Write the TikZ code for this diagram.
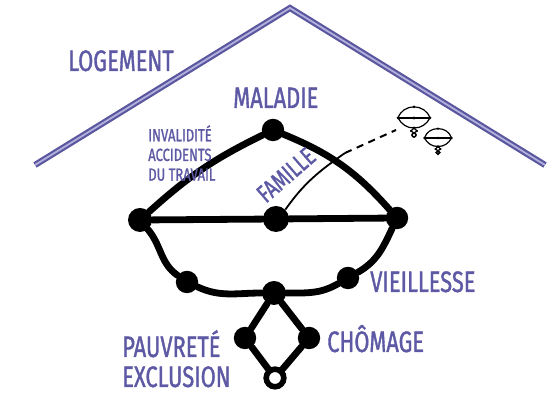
\documentclass[tikz,border=0pt]{standalone}
\usepackage{fontspec}
\setmainfont{Fira Sans}[FakeStretch=0.74, FakeBold=1.2]
\usetikzlibrary{positioning}
\definecolor{ink}{HTML}{5D59A4}
\definecolor{roofline}{HTML}{5A57A0}
\definecolor{roofcore}{HTML}{B3B1DC}

\tikzset{
  famicon/.pic={
    \draw[line width=0.3mm] (-16,0) to[out=70,in=180] (0,11) to[out=0,in=110] (16,0);
    \draw[line width=0.3mm] (-16,0) -- (16,0);
    \draw[line width=0.3mm] (-16,0) to[out=-60,in=180] (0,-10) to[out=0,in=-120] (16,0);
    \draw[line width=0.3mm] (0,-10) -- (-3,-13) -- (0,-15) -- (3,-13) -- cycle;
    \draw[line width=0.4mm] (0,-17) circle (2);
    \fill (0,11) circle (1.5) (-16,0) circle (1.5) (16,0) circle (1.5)
          (0,0) circle (1.7) (0,-10) circle (1.5) (-3,-13) circle (1.2) (3,-13) circle (1.2);
  }
}

\begin{document}
\begin{tikzpicture}[
  x=0.25mm, y=0.25mm,
  knot/.style={circle, fill=black, inner sep=0pt, minimum size=5.6mm},
  tie/.style={line width=1.7mm, line cap=round},
  word/.style={text=ink, inner sep=0pt, anchor=base west,
               font=\fontsize{21pt}{24pt}\selectfont},
  smallword/.style={word, align=left, font=\fontsize{12.5pt}{14pt}\selectfont},
  roof/.style={draw=roofline, line width=0.55mm, double=roofcore,
               double distance=0.45mm, line join=miter}
]
\useasboundingbox (0,0) rectangle (547,396);

% roof
\coordinate (eaveL) at (35,231);
\coordinate (apex) at (290,388);
\coordinate (eaveR) at (545,231);
\draw[roof] (eaveL) -- (apex) -- (eaveR);

% risks
\node[knot] (mal) at (273,266) {};
\node[knot, minimum size=6mm] (inv) at (140,176) {};
\node[knot, minimum size=6.5mm] (fam) at (276,177) {};
\node[knot] (vie) at (397,178) {};
\node[knot] (lowl) at (187,114) {};
\node[knot] (lowr) at (348,118) {};
\node[knot, minimum size=6mm] (hub) at (274,103) {};
\node[knot, minimum size=5.6mm] (pauv) at (245,58) {};
\node[knot, minimum size=5.6mm] (chom) at (309,58) {};
\node[draw, circle, line width=1.4mm, minimum size=4.4mm, inner sep=0pt] (ring) at (275,18) {};

\draw[tie] (mal) to[bend right=8] (inv);
\draw[tie] (mal) to[bend left=13] (vie);
\draw[tie] (inv) -- (fam) -- (vie);
\draw[tie] (inv) to[out=-50,in=145] (lowl) to[out=-25,in=180] (hub)
  to[out=0,in=-150] (lowr) to[out=30,in=-115] (vie);
\draw[tie] (hub) -- (pauv) -- (ring) -- (chom) -- (hub);

% families
\coordinate (famend) at (345,243);
\coordinate (famtip) at (396,266);
\draw[line width=0.45mm] (fam.45) to[out=55,in=-145] (famend);
\draw[line width=0.5mm, dash pattern=on 1.8mm off 1.4mm] (famend) -- (famtip);
\pic at (414,278) {famicon};
\pic[scale=0.85] at (438,258) {famicon};

% labels
\node[word] (logement) at (68,325) {LOGEMENT};
\node[word] (maladie) at (233,288) {MALADIE};
\node[smallword, anchor=north west] (invalidite) at (148,271) {INVALIDITÉ\\ACCIDENTS\\DU TRAVAIL};
\node[word, anchor=center, rotate=41, font=\fontsize{18pt}{20pt}\selectfont] (famille) at (286,221) {FAMILLE};
\node[word] (vieillesse) at (370,104) {VIEILLESSE};
\node[word] (chomage) at (327,44) {CHÔMAGE};
\node[word] (pauvrete) at (122,39) {PAUVRETÉ};
\node[word] (exclusion) at (122,9) {EXCLUSION};
\end{tikzpicture}
\end{document}
